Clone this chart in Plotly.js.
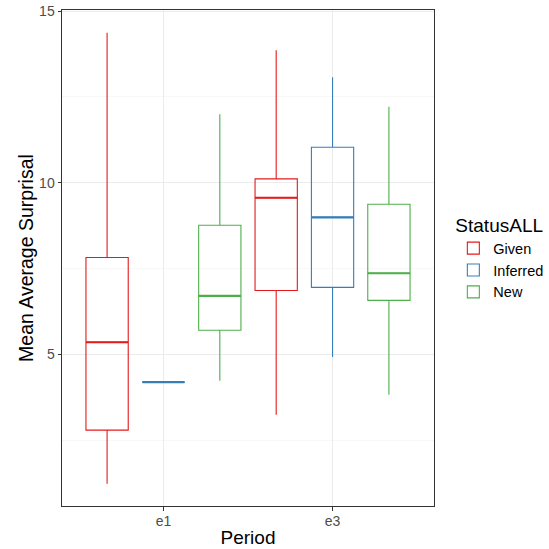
<!DOCTYPE html>
<html>
<head>
<meta charset="utf-8">
<script src="https://cdn.plot.ly/plotly-3.0.1.min.js"></script>
<style>html,body{margin:0;padding:0;background:#fff;}#chart{width:549px;height:549px;}</style>
</head>
<body>
<div id="chart"></div>
<script>
// ---- Data ----
const periods = ['e1', 'e3'];
const statuses = ['Given', 'Inferred', 'New'];
const colors = ['#E41A1C', '#377EB8', '#4DAF4A'];

const givenLower  = [1.23, 3.24];
const givenQ1     = [2.79, 6.86];
const givenMedian = [5.35, 9.56];
const givenQ3     = [7.82, 10.11];
const givenUpper  = [14.37, 13.86];

const inferredLower  = [4.19, 4.92];
const inferredQ1     = [4.19, 6.95];
const inferredMedian = [4.19, 8.99];
const inferredQ3     = [4.19, 11.03];
const inferredUpper  = [4.19, 13.07];

const newLower  = [4.23, 3.82];
const newQ1     = [5.70, 6.57];
const newMedian = [6.70, 7.36];
const newQ3     = [8.76, 9.37];
const newUpper  = [11.99, 12.21];

const series = [
  {lower: givenLower, q1: givenQ1, median: givenMedian, q3: givenQ3, upper: givenUpper},
  {lower: inferredLower, q1: inferredQ1, median: inferredMedian, q3: inferredQ3, upper: inferredUpper},
  {lower: newLower, q1: newQ1, median: newMedian, q3: newQ3, upper: newUpper}
];

// ---- Layout helpers ----
const dodge = 1/3;     // spacing between dodged boxes
const boxW = 0.25;     // box width in category units
const catPos = periods.map((p, i) => i + 1);

const traces = [];
series.forEach((s, k) => {
  const off = (k - 1) * dodge;
  const xs = catPos.map(c => c + off);
  traces.push({
    type: 'box',
    name: statuses[k],
    x: xs,
    q1: s.q1, median: s.median, q3: s.q3,
    lowerfence: s.lower, upperfence: s.upper,
    width: boxW,
    whiskerwidth: 0,
    boxpoints: false,
    fillcolor: 'rgba(255,255,255,0)',
    line: {color: colors[k], width: 1.1},
    hoverinfo: 'skip'
  });
});
// thicker median lines (ggplot fatten)
series.forEach((s, k) => {
  const off = (k - 1) * dodge;
  const mx = [], my = [];
  catPos.forEach((c, i) => {
    mx.push(c + off - boxW/2, c + off + boxW/2, null);
    my.push(s.median[i], s.median[i], null);
  });
  traces.push({
    type: 'scatter', mode: 'lines', x: mx, y: my,
    line: {color: colors[k], width: 2.2},
    showlegend: false, hoverinfo: 'skip'
  });
});

const font = 'Liberation Sans, Arial, Helvetica, sans-serif';
const layout = {
  width: 549, height: 549,
  margin: {l: 62, r: 115, t: 10, b: 43, autoexpand: false},
  paper_bgcolor: '#fff', plot_bgcolor: '#fff',
  font: {family: font, color: '#000'},
  boxmode: 'overlay',
  showlegend: true,
  legend: {
    x: 1.052, xanchor: 'left', y: 0.5, yanchor: 'middle',
    title: {text: 'StatusALL', font: {size: 19, color: '#000'}},
    font: {size: 14.5, color: '#000'},
    itemwidth: 30, tracegroupgap: 0
  },
  xaxis: {
    range: [0.4, 2.6],
    tickmode: 'array', tickvals: catPos, ticktext: periods,
    showgrid: true, gridcolor: '#EBEBEB', gridwidth: 1,
    zeroline: false,
    showline: true, mirror: true, linecolor: '#333333', linewidth: 1,
    ticks: 'outside', ticklen: 3.5, tickcolor: '#333333',
    ticklabelstandoff: -1,
    tickfont: {size: 14, color: '#4D4D4D'},
    title: {text: 'Period', font: {size: 19, color: '#000'}, standoff: 2}
  },
  yaxis: {
    range: [0.58, 15.03],
    tickmode: 'linear', tick0: 0, dtick: 5,
    showgrid: true, gridcolor: '#EBEBEB', gridwidth: 1,
    minor: {tick0: 2.5, dtick: 5, showgrid: true, gridcolor: '#F2F2F2', gridwidth: 0.6, ticks: ''},
    zeroline: false,
    showline: true, mirror: true, linecolor: '#333333', linewidth: 1,
    ticks: 'outside', ticklen: 3.5, tickcolor: '#333333',
    tickfont: {size: 14, color: '#4D4D4D'},
    title: {text: 'Mean Average Surprisal', font: {size: 19.5, color: '#000'}, standoff: 0}
  }
};

Plotly.newPlot('chart', traces, layout, {displayModeBar: false, staticPlot: true});
</script>
</body>
</html>
